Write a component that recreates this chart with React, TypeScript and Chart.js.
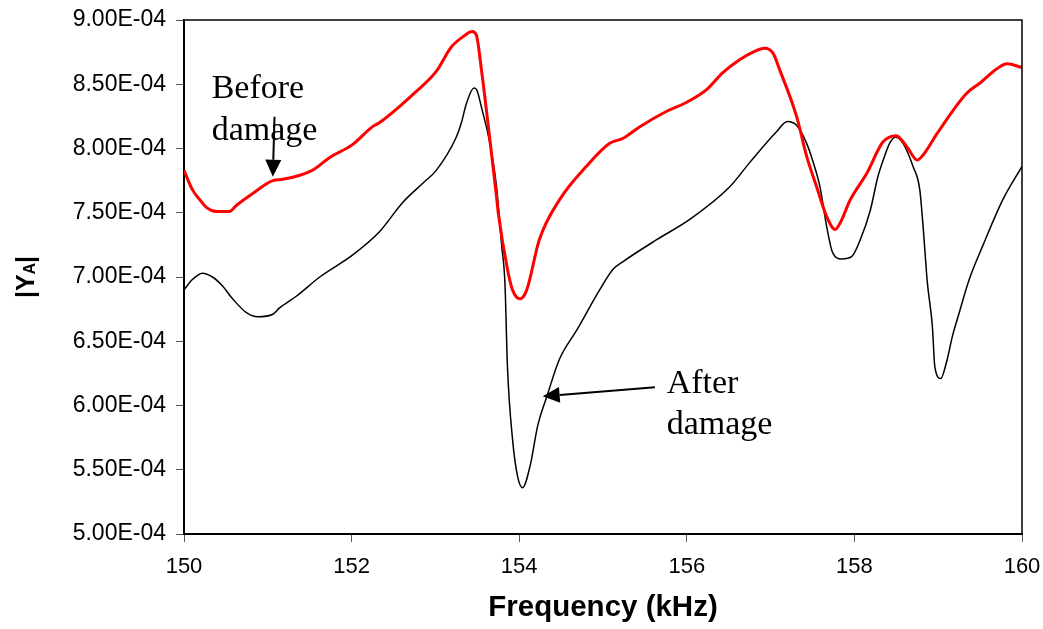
import { useEffect, useRef } from "react";
import { Chart, registerables } from "chart.js";

Chart.register(...registerables);

// Frequency samples (kHz) and admittance magnitude |Y_A| (in units of 1e-4)
const beforeFreq = [
  150.0, 150.1, 150.19, 150.27, 150.39, 150.54, 150.63, 150.82, 151.06, 151.18,
  151.53, 151.74, 152.01, 152.25, 152.33, 152.73, 153.01, 153.19, 153.33, 153.44,
  153.49, 153.55, 153.65, 153.73, 153.75, 153.86, 153.92, 154.01, 154.09, 154.24,
  154.48, 154.8, 155.08, 155.24, 155.44, 155.76, 156.0, 156.24, 156.43, 156.63,
  156.79, 156.93, 157.03, 157.11, 157.31, 157.43, 157.55, 157.67, 157.77, 157.83,
  157.95, 158.15, 158.34, 158.5, 158.63, 158.75, 158.82, 158.99, 159.34, 159.5,
  159.7, 159.82, 160.0,
];
const beforeMag = [
  7.83, 7.68, 7.6, 7.54, 7.51, 7.51, 7.56, 7.65, 7.75, 7.76,
  7.83, 7.93, 8.03, 8.17, 8.2, 8.42, 8.6, 8.79, 8.87, 8.91,
  8.88, 8.61, 8.07, 7.62, 7.5, 7.06, 6.9, 6.83, 6.9, 7.29,
  7.6, 7.86, 8.04, 8.08, 8.17, 8.29, 8.36, 8.46, 8.59, 8.69,
  8.75, 8.78, 8.74, 8.61, 8.25, 7.94, 7.7, 7.47, 7.37, 7.42,
  7.6, 7.81, 8.05, 8.1, 8.01, 7.91, 7.95, 8.12, 8.43, 8.51,
  8.62, 8.66, 8.63,
];

const afterFreq = [
  150.0, 150.1, 150.22, 150.34, 150.46, 150.58, 150.75, 150.88, 151.06, 151.14,
  151.34, 151.62, 152.01, 152.33, 152.61, 152.85, 153.01, 153.25, 153.31, 153.37,
  153.46, 153.49, 153.55, 153.65, 153.73, 153.79, 153.83, 153.86, 153.92, 153.98,
  154.04, 154.13, 154.22, 154.33, 154.48, 154.69, 154.96, 155.12, 155.24, 155.64,
  156.04, 156.51, 156.75, 157.07, 157.2, 157.31, 157.43, 157.5, 157.59, 157.67,
  157.74, 157.85, 157.97, 158.07, 158.19, 158.28, 158.36, 158.42, 158.49, 158.58,
  158.7, 158.78, 158.82, 158.87, 158.93, 158.96, 159.03, 159.1, 159.17, 159.25,
  159.37, 159.53, 159.77, 160.0,
];
const afterMag = [
  6.9, 6.98, 7.03, 7.0, 6.93, 6.83, 6.72, 6.69, 6.71, 6.76,
  6.85, 7.0, 7.17, 7.35, 7.58, 7.73, 7.83, 8.09, 8.2, 8.35,
  8.47, 8.46, 8.32, 8.04, 7.7, 7.25, 6.95, 6.3, 5.74, 5.45,
  5.36, 5.53, 5.84, 6.07, 6.36, 6.59, 6.9, 7.06, 7.12, 7.29,
  7.45, 7.7, 7.89, 8.13, 8.21, 8.18, 8.04, 7.91, 7.7, 7.39,
  7.19, 7.14, 7.16, 7.29, 7.52, 7.78, 7.94, 8.04, 8.09, 8.04,
  7.86, 7.68, 7.39, 6.96, 6.62, 6.3, 6.21, 6.34, 6.54, 6.72,
  6.98, 7.24, 7.6, 7.86,
];

const xTicks = [150, 152, 154, 156, 158, 160];
const yTicks = [5.0, 5.5, 6.0, 6.5, 7.0, 7.5, 8.0, 8.5, 9.0];
const formatY = (v: number) => `${v.toFixed(2)}E-04`;

const xTitle = "Frequency (kHz)";

// Curve labels (left edge / baseline, data units) and their pointer arrows
const notes = [
  { text: "Before", x: 150.33, y: 8.394 },
  { text: "damage", x: 150.33, y: 8.068 },
  { text: "After", x: 155.76, y: 6.095 },
  { text: "damage", x: 155.76, y: 5.777 },
];
const arrows = [
  { from: [151.08, 8.247], to: [151.06, 7.78] },
  { from: [155.62, 6.142], to: [154.28, 6.072] },
];

const toPoints = (fs: number[], vs: number[]) => fs.map((f, i) => ({ x: f, y: vs[i] }));

const decorPlugin = {
  id: "decor",
  afterDatasetsDraw(chart: any) {
    const { ctx, chartArea } = chart;
    const sx = chart.scales.x;
    const sy = chart.scales.y;
    const { left, right, top, bottom } = chartArea;

    ctx.save();
    // top and right edges of the plot frame
    ctx.strokeStyle = "#000";
    ctx.lineWidth = 1.5;
    ctx.beginPath();
    ctx.moveTo(left, top);
    ctx.lineTo(right, top);
    ctx.lineTo(right, bottom);
    ctx.stroke();

    // curve labels
    ctx.fillStyle = "#000";
    ctx.font = '34px "Liberation Serif", "Times New Roman", serif';
    ctx.textAlign = "left";
    ctx.textBaseline = "alphabetic";
    for (const n of notes) {
      ctx.fillText(n.text, sx.getPixelForValue(n.x), sy.getPixelForValue(n.y));
    }

    // pointer arrows
    for (const a of arrows) {
      const x0 = sx.getPixelForValue(a.from[0]);
      const y0 = sy.getPixelForValue(a.from[1]);
      const x1 = sx.getPixelForValue(a.to[0]);
      const y1 = sy.getPixelForValue(a.to[1]);
      const ang = Math.atan2(y1 - y0, x1 - x0);
      const headLen = 17;
      const headHalf = 8;
      const bx = x1 - headLen * Math.cos(ang);
      const by = y1 - headLen * Math.sin(ang);
      ctx.lineWidth = 2;
      ctx.beginPath();
      ctx.moveTo(x0, y0);
      ctx.lineTo(bx, by);
      ctx.stroke();
      ctx.beginPath();
      ctx.moveTo(x1, y1);
      ctx.lineTo(bx + headHalf * Math.sin(ang), by - headHalf * Math.cos(ang));
      ctx.lineTo(bx - headHalf * Math.sin(ang), by + headHalf * Math.cos(ang));
      ctx.closePath();
      ctx.fill();
    }
    ctx.restore();
  },
  afterDraw(chart: any) {
    const { ctx, chartArea } = chart;
    ctx.save();
    ctx.fillStyle = "#000";

    // x-axis title
    ctx.font = 'bold 29.5px "Liberation Sans", Arial, sans-serif';
    ctx.textAlign = "center";
    ctx.textBaseline = "middle";
    ctx.fillText(xTitle, (chartArea.left + chartArea.right) / 2, 608);

    // y-axis title |Y_A| with subscript, rotated
    const big = 'bold 25px "Liberation Sans", Arial, sans-serif';
    const small = 'bold 16px "Liberation Sans", Arial, sans-serif';
    ctx.font = big;
    const w1 = ctx.measureText("|Y").width;
    const w3 = ctx.measureText("|").width;
    ctx.font = small;
    const w2 = ctx.measureText("A").width;
    const total = w1 + w2 + w3;
    ctx.translate(27, (chartArea.top + chartArea.bottom) / 2);
    ctx.rotate(-Math.PI / 2);
    ctx.textAlign = "left";
    ctx.textBaseline = "middle";
    let x = -total / 2;
    ctx.font = big;
    ctx.fillText("|Y", x, 0);
    x += w1;
    ctx.font = small;
    ctx.fillText("A", x, 4);
    x += w2;
    ctx.font = big;
    ctx.fillText("|", x, 0);
    ctx.restore();
  },
};

export default function App() {
  const canvasRef = useRef<HTMLCanvasElement | null>(null);

  useEffect(() => {
    document.body.style.margin = "0";
    const canvas = canvasRef.current;
    if (!canvas) return;
    const family = '"Liberation Sans", Arial, sans-serif';
    const chart = new Chart(canvas, {
      type: "line",
      data: {
        datasets: [
          {
            label: "Before damage",
            data: toPoints(beforeFreq, beforeMag),
            borderColor: "#ff0000",
            borderWidth: 3,
            pointRadius: 0,
            cubicInterpolationMode: "monotone",
            fill: false,
          },
          {
            label: "After damage",
            data: toPoints(afterFreq, afterMag),
            borderColor: "#000000",
            borderWidth: 1.5,
            pointRadius: 0,
            cubicInterpolationMode: "monotone",
            fill: false,
          },
        ],
      },
      options: {
        animation: false,
        responsive: false,
        events: [],
        layout: { padding: { top: 20, right: 21, left: 0, bottom: 0 } },
        plugins: {
          legend: { display: false },
          tooltip: { enabled: false },
          title: { display: false },
        },
        scales: {
          x: {
            type: "linear",
            min: 150,
            max: 160,
            afterBuildTicks: (s: any) => {
              s.ticks = xTicks.map((v) => ({ value: v }));
            },
            afterFit: (s: any) => {
              s.height = 95;
              s.paddingLeft = 0;
              s.paddingRight = 0;
            },
            ticks: {
              font: { family, size: 22 },
              color: "#000",
              padding: 12,
              maxRotation: 0,
              autoSkip: false,
              callback: (v: any) => String(v),
            },
            grid: {
              drawOnChartArea: false,
              drawTicks: true,
              tickLength: 8,
              tickColor: "#555",
              tickWidth: 1,
            },
            border: { display: true, color: "#000", width: 2 },
          },
          y: {
            type: "linear",
            min: 5,
            max: 9,
            afterBuildTicks: (s: any) => {
              s.ticks = yTicks.map((v) => ({ value: v }));
            },
            afterFit: (s: any) => {
              s.width = 184;
              s.paddingTop = 0;
              s.paddingBottom = 0;
            },
            ticks: {
              font: { family, size: 23 },
              color: "#000",
              padding: 10,
              autoSkip: false,
              callback: (v: any) => formatY(Number(v)),
            },
            grid: {
              drawOnChartArea: false,
              drawTicks: true,
              tickLength: 8,
              tickColor: "#555",
              tickWidth: 1,
            },
            border: { display: true, color: "#000", width: 2 },
          },
        },
      },
      plugins: [decorPlugin],
    });
    return () => chart.destroy();
  }, []);

  return (
    <div style={{ width: 1043, height: 629, background: "#fff" }}>
      <canvas ref={canvasRef} width={1043} height={629} style={{ display: "block" }} />
    </div>
  );
}
